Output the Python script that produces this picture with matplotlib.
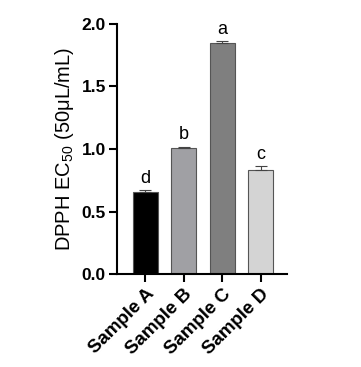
import numpy as np
import matplotlib.pyplot as plt
import matplotlib as mpl

mpl.rcParams.update({
    "font.family": "Liberation Sans",
    "mathtext.fontset": "custom",
    "mathtext.rm": "Liberation Sans",
    "mathtext.it": "Liberation Sans",
    "mathtext.bf": "Liberation Sans:bold",
})

samples = ["Sample A", "Sample B", "Sample C", "Sample D"]
ec50 = [0.66, 1.007, 1.851, 0.834]
err = [0.015, 0.012, 0.010, 0.028]
letters = ["d", "b", "a", "c"]
colors = ["#000000", "#a0a0a4", "#7f7f7f", "#d4d4d4"]


def main():
    fig = plt.figure(figsize=(3.61, 3.67), dpi=100)
    ax = fig.add_axes([0.324, 0.253, 0.471, 0.682])

    x = np.arange(len(samples))
    ax.bar(x, ec50, width=0.65, color=colors, edgecolor="#555555", linewidth=0.8,
           zorder=2)
    ax.errorbar(x, ec50, yerr=[np.zeros(len(err)), err], fmt="none",
                ecolor="#444444", elinewidth=0.8, capsize=4, capthick=0.8, zorder=3)

    for xi, v, e, lab in zip(x, ec50, err, letters):
        ax.text(xi, v + e + 0.025, lab, ha="center", va="bottom", fontsize=13)

    ax.set_xlim(-0.74, 3.69)
    ax.set_ylim(0, 2.0)
    ax.set_yticks([0.0, 0.5, 1.0, 1.5, 2.0])
    ax.set_yticklabels([f"{t:.1f}" for t in [0.0, 0.5, 1.0, 1.5, 2.0]],
                       fontsize=12.5, fontweight="bold")
    ax.set_xticks(x)
    ax.set_xticklabels(samples, rotation=45, ha="right", rotation_mode="anchor",
                       fontsize=13.5, fontweight="bold")

    ax.set_ylabel("DPPH EC$_{50}$ (50μL/mL)", fontsize=14.5, labelpad=4)

    for s in ["top", "right"]:
        ax.spines[s].set_visible(False)
    for s in ["left", "bottom"]:
        ax.spines[s].set_linewidth(1.5)
    ax.tick_params(axis="both", width=1.5, length=6, pad=2, direction="out")

    fig.savefig("out.png", dpi=100)
    plt.close(fig)


if __name__ == "__main__":
    main()
